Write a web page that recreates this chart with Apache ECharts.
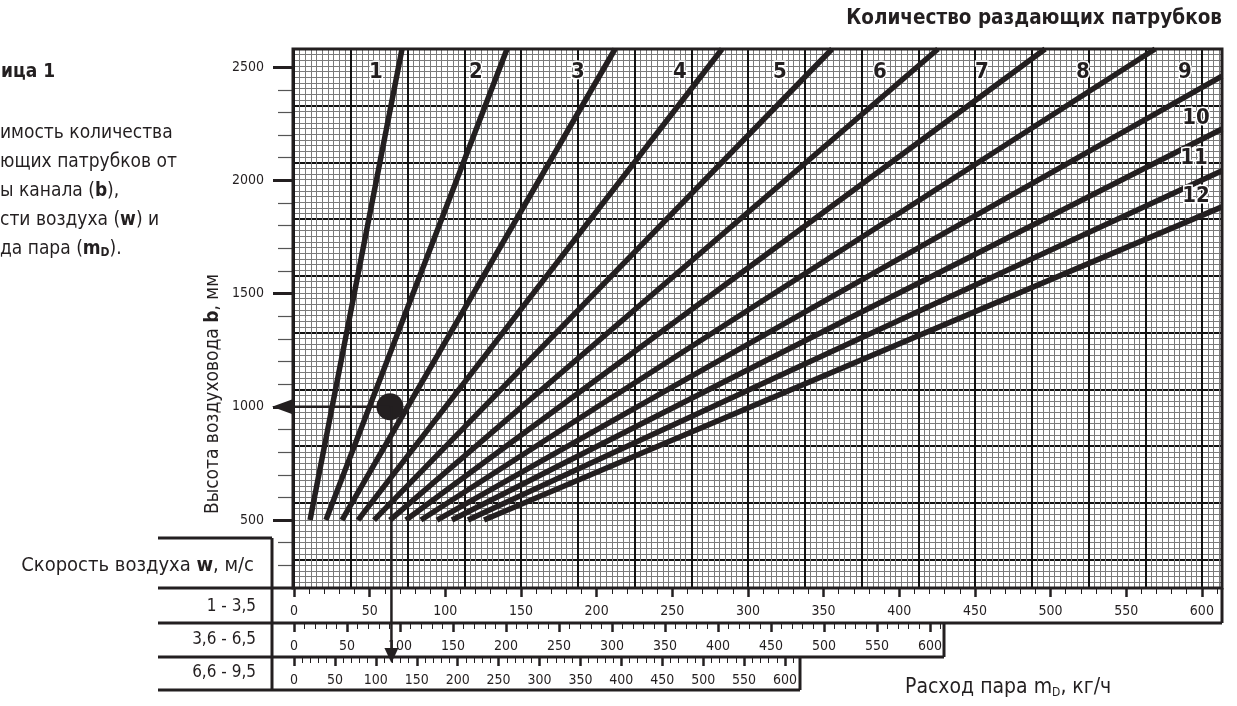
<!DOCTYPE html>
<html><head><meta charset="utf-8">
<script src="https://cdn.jsdelivr.net/npm/echarts@6/dist/echarts.min.js"></script>
<style>html,body{margin:0;padding:0;background:#fff}#c{width:1237px;height:706px}</style>
</head><body><div id="c"></div>
<script>
// ---- data ----
const nozzleCounts = ['1','2','3','4','5','6','7','8','9','10','11','12'];
const bStart = 500;
const mStart = [10.6, 21.1, 31.7, 42.3, 52.9, 63.4, 74.0, 83.9, 94.5, 104.4, 115.0, 125.6];
const mEnd   = [71.4, 140.8, 212.2, 282.9, 355.6, 425.6, 496.4, 569.1, 613.3, 613.3, 613.3, 613.3];
const bEnd   = [2580, 2580, 2580, 2580, 2580, 2580, 2580, 2580, 2460, 2227, 2042, 1883];
const exampleM = 63.4, exampleB = 1000;
const yMajorTicks = [500, 1000, 1500, 2000, 2500];
const yMinorTicks = [300, 400, 600, 700, 800, 900, 1100, 1200, 1300, 1400, 1600, 1700, 1800, 1900, 2100, 2200, 2300, 2400];
const scaleMajorTicks = [0, 50, 100, 150, 200, 250, 300, 350, 400, 450, 500, 550, 600];
const scaleMinorTicks = [0,10,20,30,40,50,60,70,80,90,100,110,120,130,140,150,160,170,180,190,200,210,220,230,240,250,260,270,280,290,300,310,320,330,340,350,360,370,380,390,400,410,420,430,440,450,460,470,480,490,500,510,520,530,540,550,560,570,580,590,600,610];
const speedRanges = ['1 - 3,5', '3,6 - 6,5', '6,6 - 9,5'];
const rowMax = [613.3, 613.3, 618.3];

const FF = '"Liberation Sans Narrow","Arial Narrow","DejaVu Sans Condensed","Liberation Sans",sans-serif';
const INK = '#231f20';

const chart = echarts.init(document.getElementById('c'), null, {renderer: 'canvas'});

const plotRect = {left: 294, top: 49, width: 928, height: 539};
const rowRects = [
  {left: 294, top: 588, width: 928, height: 35},
  {left: 294, top: 623, width: 650, height: 34},
  {left: 294, top: 657, width: 506, height: 33}
];
const mk = r => Object.assign({outerBoundsMode: 'none', containLabel: false}, r);
// 0 data, 1 minor y ticks, 2 thin grid, 3 heavy grid, 4-6 row majors, 7-9 row minors
const grids = [mk(plotRect), mk(plotRect), mk(plotRect), mk(plotRect)]
  .concat(rowRects.map(mk), rowRects.map(mk));

const hid = () => ({axisLine: {show: false, onZero: false}, axisTick: {show: false}, axisLabel: {show: false}, splitLine: {show: false}});
const thin = {color: '#7a7a7a', width: 1};
const heavy = {color: '#111', width: 2};

const xAxes = [
  Object.assign(hid(), {gridIndex: 0, type: 'value', min: 0, max: 613.3}),
  Object.assign(hid(), {gridIndex: 1, type: 'value', min: 0, max: 1}),
  Object.assign(hid(), {gridIndex: 2, type: 'value', min: 0, max: 163.5, interval: 1, splitLine: {show: true, lineStyle: thin}}),
  Object.assign(hid(), {gridIndex: 3, type: 'value', min: 0, max: 163.5, interval: 10, splitLine: {show: true, lineStyle: heavy}})
];
rowRects.forEach((g, i) => {
  xAxes.push({gridIndex: 4 + i, type: 'value', min: 0, max: rowMax[i], position: 'top',
    axisLine: {show: false, onZero: false}, splitLine: {show: false},
    axisTick: {show: true, inside: true, length: 9, customValues: scaleMajorTicks, lineStyle: {color: INK, width: 2.5}},
    axisLabel: {show: true, inside: true, margin: 16, customValues: scaleMajorTicks,
      formatter: v => String(v), fontFamily: FF, fontSize: 14, color: INK}});
});
rowRects.forEach((g, i) => {
  xAxes.push({gridIndex: 7 + i, type: 'value', min: 0, max: rowMax[i], position: 'top',
    axisLine: {show: false, onZero: false}, splitLine: {show: false}, axisLabel: {show: false},
    axisTick: {show: true, inside: true, length: 6, customValues: scaleMinorTicks, lineStyle: {color: INK, width: 1}}});
});

const yAxes = [
  {gridIndex: 0, type: 'value', min: 200, max: 2580, position: 'left',
    axisLine: {show: false, onZero: false}, splitLine: {show: false},
    axisTick: {show: true, length: 21, customValues: yMajorTicks, lineStyle: {color: INK, width: 3}},
    axisLabel: {show: true, margin: 30, customValues: yMajorTicks, formatter: v => String(v),
      fontFamily: FF, fontSize: 14, color: INK}},
  Object.assign(hid(), {gridIndex: 1, type: 'value', min: 200, max: 2580, position: 'left',
    axisTick: {show: true, length: 16, customValues: yMinorTicks, lineStyle: {color: '#555', width: 1.2}}}),
  Object.assign(hid(), {gridIndex: 2, type: 'value', min: 0, max: 95.0, interval: 1, inverse: true,
    splitLine: {show: true, lineStyle: thin}}),
  Object.assign(hid(), {gridIndex: 3, type: 'value', min: 0, max: 95.0, interval: 10, inverse: true,
    splitLine: {show: true, lineStyle: heavy}})
];
for (let i = 4; i < 10; i++) yAxes.push(Object.assign(hid(), {gridIndex: i, type: 'value', min: 0, max: 1}));

const series = nozzleCounts.map((n, i) => ({
  name: n, type: 'line', xAxisIndex: 0, yAxisIndex: 0, symbol: 'none', silent: true, z: 5, smooth: false,
  lineStyle: {color: INK, width: 5.5, cap: 'butt', opacity: 1},
  data: [[mStart[i], bStart], [mEnd[i], bEnd[i]]]
}));
series.push({type: 'scatter', xAxisIndex: 0, yAxisIndex: 0, symbol: 'circle', symbolSize: 27, z: 6, silent: true,
  itemStyle: {color: INK, opacity: 1}, data: [[exampleM, exampleB]]});

chart.setOption({
  animation: false,
  backgroundColor: '#fff',
  grid: grids, xAxis: xAxes, yAxis: yAxes, series: series
});

// ---- annotations ----
const p = chart.convertToPixel({xAxisIndex: 0, yAxisIndex: 0}, [exampleM, exampleB]);
const ln = (x1, y1, x2, y2, w) => ({type: 'line', z: 100, shape: {x1, y1, x2, y2}, style: {stroke: INK, lineWidth: w || 3}});
const tx = (text, x, y, font, align, extra) => ({type: 'text', z: 110, x: x, y: y,
  style: Object.assign({text: text, x: 0, y: 0, font: font, fill: INK, align: align || 'left', textAlign: align || 'left',
    verticalAlign: 'middle', textVerticalAlign: 'middle'}, extra || {})});

const els = [];
els.push({type: 'rect', z: 100, shape: {x: 293, y: 49, width: 929, height: 539}, style: {fill: null, stroke: INK, lineWidth: 3}});
els.push(ln(158, 588, 293, 588), ln(158, 623, 1222, 623), ln(158, 657, 944, 657), ln(158, 690, 800, 690),
  ln(158, 538, 272, 538), ln(272, 538, 272, 690), ln(1222, 588, 1222, 623), ln(944, 623, 944, 657), ln(800, 657, 800, 690));
// example arrows
els.push(ln(293, p[1], p[0], p[1], 2.5));
els.push({type: 'polygon', z: 101, shape: {points: [[272, p[1]], [294, p[1] - 8], [294, p[1] + 8]]}, style: {fill: INK}});
els.push(ln(p[0] + 1.5, p[1], p[0] + 1.5, 650, 2.5));
els.push({type: 'polygon', z: 101, shape: {points: [[p[0] - 5.5, 648], [p[0] + 8.5, 648], [p[0] + 1.5, 663]]}, style: {fill: INK}});

// texts
els.push(tx('Количество раздающих патрубков', 1222, 19, 'bold 20.5px ' + FF, 'right'));
els.push(tx('ица 1', 1, 72, 'bold 19px ' + FF, 'left'));
const body = 'normal 19px ' + FF;
const bodyRich = {n: {font: body, fill: INK}, b: {font: 'bold 19px ' + FF, fill: INK},
  bs: {font: 'bold 12px ' + FF, fill: INK, verticalAlign: 'bottom', lineHeight: 9}};
els.push(tx('имость количества', 0, 133, body, 'left'));
els.push(tx('ющих патрубков от', 0, 162, body, 'left'));
els.push(tx('{n|ы канала (}{b|b}{n|),}', 0, 191, body, 'left', {rich: bodyRich}));
els.push(tx('{n|сти воздуха (}{b|w}{n|) и}', 0, 220, body, 'left', {rich: bodyRich}));
els.push(tx('{n|да пара (}{b|m}{bs|D}{n|).}', 0, 249, body, 'left', {rich: bodyRich}));

const yName = tx('{n|Высота воздуховода }{b|b}{n|, мм}', 213, 394, '19px ' + FF, 'center',
  {rich: {n: {font: '19px ' + FF, fill: INK}, b: {font: 'bold 19px ' + FF, fill: INK}}});
yName.rotation = Math.PI / 2;
els.push(yName);

els.push(tx('{n|Скорость воздуха }{b|w}{n|, м/с}', 254, 566, '20px ' + FF, 'right',
  {rich: {n: {font: '20px ' + FF, fill: INK}, b: {font: 'bold 20px ' + FF, fill: INK}}}));
const rowY = [607, 640, 673];
speedRanges.forEach((s, i) => els.push(tx(s, 256, rowY[i], '17px ' + FF, 'right')));

els.push(tx('{n|Расход пара m}{s|D}{n|, кг/ч}', 905, 688, '21px ' + FF, 'left',
  {rich: {n: {font: '21px ' + FF, fill: INK}, s: {font: '12px ' + FF, fill: INK, verticalAlign: 'bottom', lineHeight: 9}}}));

// nozzle count labels
const labelPos = [[376,72],[476,72],[578,72],[680,72],[780,72],[880,72],[982,72],[1083,72],[1185,72],[1196,118],[1194,158],[1196,196]];
nozzleCounts.forEach((n, i) => els.push(tx(n, labelPos[i][0], labelPos[i][1], 'bold 22px ' + FF, 'center',
  {stroke: '#fff', lineWidth: 3, strokeFirst: true})));

chart.setOption({graphic: {elements: els}});
</script>
</body></html>
